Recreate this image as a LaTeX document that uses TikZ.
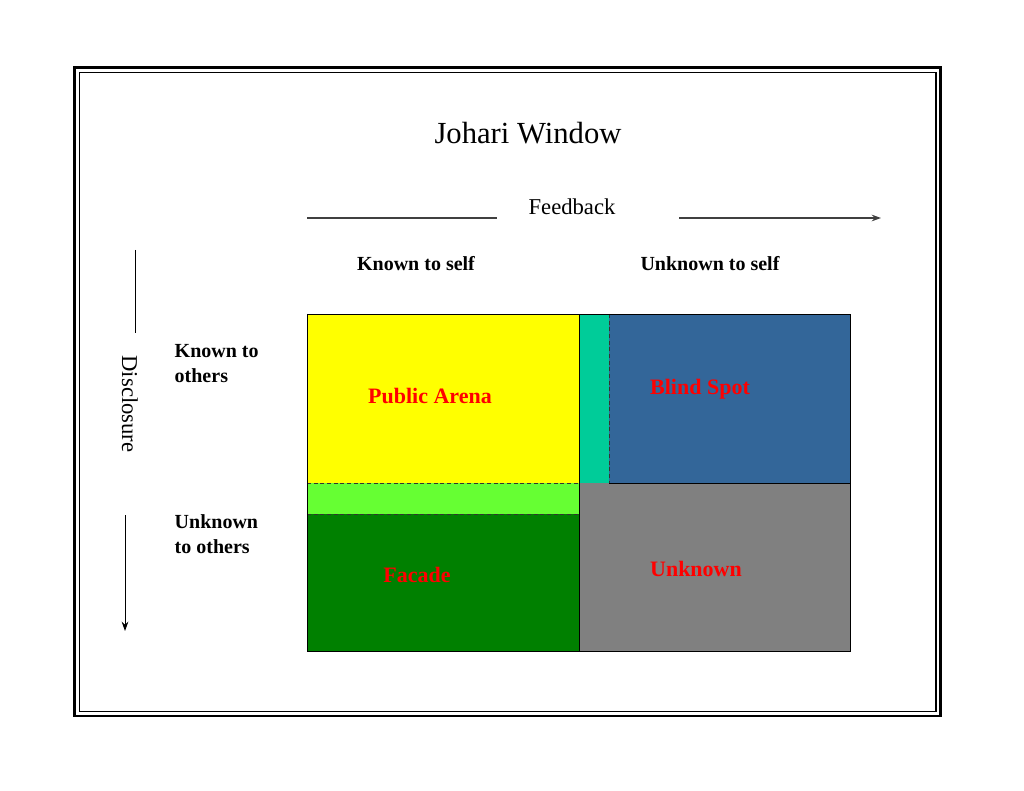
\documentclass[tikz,border=0pt]{standalone}
\usepackage{fontspec}
\setmainfont{Liberation Serif}
\usepackage{xcolor}
\usetikzlibrary{positioning, arrows.meta}

\definecolor{publicYellow}{HTML}{FFFF00}
\definecolor{blindBlue}{HTML}{336699}
\definecolor{stripTeal}{HTML}{00CC99}
\definecolor{stripGreen}{HTML}{66FF33}
\definecolor{facadeGreen}{HTML}{008000}
\definecolor{unknownGrey}{HTML}{808080}
\definecolor{paneRed}{HTML}{FF0000}

\begin{document}
\begin{tikzpicture}[
x=0.75pt, y=-0.75pt,
    pane/.style={rectangle, inner sep=0pt, outer sep=0pt, anchor=north west},
    panetext/.style={font=\fontsize{16.5}{18}\selectfont\bfseries, text=paneRed},
    axislabel/.style={font=\fontsize{15}{18.75}\selectfont\bfseries, align=left},
    flowtext/.style={font=\fontsize{17}{20}\selectfont},
    flowline/.style={draw=black!75, line width=0.9pt},
    sep/.style={draw=black!80, densely dashed, line width=0.5pt}
]
    \useasboundingbox (0,0) rectangle (1024,791);

    % ================= FRAME =================
    \draw[line width=2pt] (74.5,67.5) rectangle (940.5,716);
    \draw[line width=0.8pt] (79.5,72.5) rectangle (936,711.5);

    % ================= TITLE & AXES =================
    \node[font=\fontsize{23}{26}\selectfont] (title) at (528,133) {Johari Window};

    \node[flowtext] (feedback) at (572,207) {Feedback};
    \coordinate (fbA) at (307,218);
    \coordinate (fbB) at (497,218);
    \coordinate (fbC) at (679,218);
    \coordinate (fbD) at (881,218);
    \draw[flowline] (fbA) -- (fbB);
    \draw[flowline, -{Stealth[length=7pt, width=5pt]}] (fbC) -- (fbD);

    \node[flowtext, rotate=-90] (disclosure) at (130,404) {Disclosure};
    \coordinate (dsA) at (135,250);
    \coordinate (dsB) at (135,333);
    \coordinate (dsC) at (125,515);
    \coordinate (dsD) at (125,631);
    \draw[line width=0.7pt] (dsA) -- (dsB);
    \draw[line width=0.7pt, -{Stealth[length=7pt, width=5pt]}] (dsC) -- (dsD);

    \node[axislabel] (kself) at (416,264) {Known to self};
    \node[axislabel] (uself) at (710,264) {Unknown to self};
    \node[axislabel, anchor=west] (kothers) at (170,364) {Known to\\others};
    \node[axislabel, anchor=west] (uothers) at (170,534) {Unknown\\to others};

    % ================= PANES =================
    \node[pane, fill=publicYellow, minimum width=272*0.75pt, minimum height=169*0.75pt] (public) at (307,314) {};
    \node[pane, fill=stripTeal, minimum width=30*0.75pt, minimum height=169*0.75pt] (teal) at (579,314) {};
    \node[pane, fill=blindBlue, minimum width=241*0.75pt, minimum height=169*0.75pt] (blind) at (609,314) {};
    \node[pane, fill=stripGreen, minimum width=272*0.75pt, minimum height=31*0.75pt] (lime) at (307,483) {};
    \node[pane, fill=facadeGreen, minimum width=272*0.75pt, minimum height=137*0.75pt] (facade) at (307,514) {};
    \node[pane, fill=unknownGrey, minimum width=271*0.75pt, minimum height=168*0.75pt] (unknown) at (579,483) {};

    % dashed separators
    \draw[sep] (public.south west) -- (public.south east);
    \draw[sep] (facade.north west) -- (facade.north east);
    \draw[sep] (teal.north east) -- (teal.south east);

    % solid outlines
    \draw[line width=0.7pt] (public.north west) -- (public.north east) -- (public.south east);
    \draw[line width=0.7pt] (public.north west) -- (facade.south west) -- (unknown.south east) -- (blind.north east) -- (blind.north west);
    \draw[line width=0.7pt] (teal.north west) -- ([xshift=14pt]teal.north east);
    \draw[line width=0.7pt] (unknown.north west) -- (unknown.south west);
    \draw[line width=0.7pt] (blind.south west) -- (blind.south east);

    % ================= PANE LABELS =================
    \node[panetext] (publicText) at (430,396) {Public Arena};
    \node[panetext] (blindText) at (700,389) {Blind Spot};
    \node[panetext] (facadeText) at (417,575) {Facade};
    \node[panetext] (unknownText) at (696,569) {Unknown};

\end{tikzpicture}
\end{document}
